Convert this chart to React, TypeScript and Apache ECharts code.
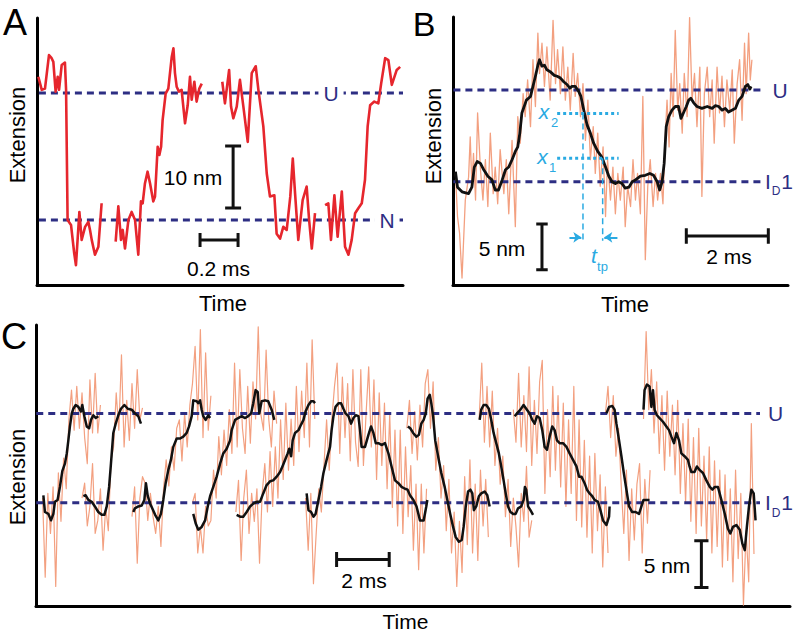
import React, { useEffect, useRef } from 'react';
import * as echarts from 'echarts';

// ---------------- Panel A (red trace, N <-> U) ----------------
const A_TIME_MS = [
  0.007, 0.025, 0.042, 0.063, 0.077, 0.086, 0.098, 0.109, 0.116, 0.130, 0.147, 0.153, 0.161, 0.179, 0.196, 0.205, 0.223, 0.235, 0.253, 0.270, 0.279, 0.288, 0.305, 0.323, 0.340, null,
  0.414, 0.428, 0.442, 0.451, 0.463, 0.481, 0.498, 0.516, 0.533, 0.547, 0.556, 0.568, 0.582, 0.595, 0.612, 0.621, 0.635, 0.644, 0.653, 0.661, 0.677, 0.691, 0.709, 0.718, 0.726, 0.735, 0.747, 0.761, 0.779, 0.793, 0.805, 0.814, 0.828, 0.840, 0.854, 0.867, null,
  0.975, 0.989, 1.011, 1.021, 1.033, 1.051, 1.068, 1.086, 1.109, 1.130, 1.151, 1.165, 1.191, 1.209, 1.226, 1.249, 1.261, 1.279, 1.296, 1.314, 1.333, 1.346, 1.358, 1.375, 1.398, 1.419, 1.432, 1.446, 1.463, null,
  1.516, 1.533, 1.547, 1.565, 1.582, 1.604, 1.621, 1.639, 1.656, 1.674, 1.691, 1.709, 1.726, 1.740, 1.753, 1.775, 1.796, 1.811, 1.832, 1.849, 1.867, 1.893, 1.911,
];
const A_EXT_NM = [
  23.1, 21.0, 21.2, 26.6, 26.1, 25.5, 20.7, 23.1, 21.0, 25.0, 25.4, 21.0, 0, -0.8, -5.4, -7.3, 1.3, -3.2, -1.1, -0.3, -1.6, -3.2, -5.6, -4.3, 2.7, null,
  -3.5, 2.2, -3.2, -1.6, -4.6, 0, 1.3, 0, -5.6, 3.0, 2.7, 5.9, 7.8, 5.9, 3.0, 3.8, 11.8, 10.5, 11.8, 16.1, 20.4, 21.2, 26.3, 27.7, 23.7, 21.5, 20.7, 21.0, 15.6, 18.5, 23.1, 19.4, 22.3, 19.1, 21.2, 22.0, null,
  22.3, 18.8, 24.2, 18.3, 16.4, 18.3, 22.6, 18.3, 12.6, 23.7, 24.8, 21.0, 15.1, 7.5, 3.8, 4.0, -2.2, -3.0, -1.1, -1.6, 3.8, 9.9, 4.3, -3.2, 3.2, 5.4, 0, -4.6, 1.1, null,
  2.4, 2.7, -3.2, 4.0, -2.7, 4.6, -4.3, -5.6, -3.2, 1.1, 1.9, 2.7, 6.5, 15.1, 18.5, 19.1, 18.8, 22.0, 26.1, 25.8, 21.8, 24.2, 24.7,
];
const A_LEVELS_NM = [20.5, 0];
const A_LEVEL_NAMES = ['U', 'N'];

// ---------------- Panel B ----------------
const B_RAW_TIME_MS = [
  0.06, 0.11, 0.16, 0.22, 0.30, 0.38, 0.42, 0.46, 0.50, 0.55,
  0.60, 0.67, 0.73, 0.79, 0.85, 0.91, 0.98, 1.03, 1.09, 1.15,
  1.24, 1.30, 1.36, 1.44, 1.52, 1.58, 1.64, 1.71, 1.76, 1.82,
  1.89, 1.95, 2.01, 2.07, 2.11, 2.17, 2.23, 2.29, 2.37, 2.44,
  2.50, 2.55, 2.62, 2.68, 2.74, 2.80, 2.86, 2.93, 2.98, 3.04,
  3.11, 3.17, 3.23, 3.29, 3.35, 3.42, 3.47, 3.53, 3.59, 3.66,
  3.72, 3.77, 3.84, 3.90, 3.96, 4.02, 4.08, 4.15, 4.20, 4.26,
  4.33, 4.39, 4.45, 4.50, 4.57, 4.63, 4.69, 4.75, 4.81, 4.88,
  4.94, 4.99, 5.06, 5.12, 5.18, 5.22, 5.27, 5.32, 5.37, 5.42,
  5.48, 5.53, 5.59, 5.64, 5.71, 5.77, 5.83, 5.89, 5.95, 6.02,
  6.07, 6.13, 6.20, 6.26, 6.32, 6.37, 6.44, 6.50, 6.56, 6.62,
  6.68, 6.75, 6.81, 6.86, 6.93, 6.99, 7.05, 7.11, 7.15, 7.21,
  7.25, 7.29,
];
const B_RAW_EXT_NM = [
  0.9, -3.8, -5.6, -10.5, -2.0, 0.5, 4.9, -0.5, 3.1, -2.0,
  7.5, 1.3, -2.0, 2.4, -2.7, 5.3, -1.3, 1.6, -2.4, 3.5,
  -1.3, 2.4, -3.5, 4.5, -4.9, 7.1, 4.2, 9.6, 7.1, 11.1,
  6.0, 13.3, 8.2, 16.2, 11.8, 15.1, 10.4, 14.7, 8.9, 17.6,
  10.7, 14.4, 9.6, 14.7, 8.9, 12.5, 7.8, 14.0, 9.3, 11.8,
  7.1, 10.7, 4.5, 8.9, 2.4, 6.0, 0.9, 5.3, -0.5, 3.8,
  -3.8, 2.4, -2.0, 1.6, -3.5, 0.9, -2.0, 1.6, -4.9, -0.5,
  -2.7, 2.4, -2.0, 0.9, -3.5, 9.3, -8.5, -0.5, 2.4, -2.7,
  0.9, -2.0, 0.9, -2.4, 5.3, 8.9, 3.8, 11.8, 7.1, 16.5,
  7.8, 10.7, 5.3, 11.8, 7.1, 17.9, 8.9, 11.8, 6.0, 12.5,
  -1.6, 9.6, 12.5, 7.1, 11.1, 4.2, 12.5, 7.5, 11.5, 6.0,
  11.1, 7.8, 12.2, 4.2, 10.7, 13.3, 6.7, 15.1, 9.6, 16.2,
  11.1, 13.3,
];
const B_SMOOTH_TIME_MS = [
  0.06, 0.11, 0.22, 0.38, 0.46, 0.52, 0.59, 0.67, 0.75, 0.85,
  0.95, 1.03, 1.11, 1.20, 1.28, 1.36, 1.44, 1.52, 1.58, 1.63,
  1.68, 1.79, 1.89, 1.95, 2.01, 2.07, 2.11, 2.17, 2.23, 2.29,
  2.37, 2.47, 2.54, 2.62, 2.70, 2.78, 2.85, 2.90, 2.98, 3.07,
  3.12, 3.19, 3.27, 3.35, 3.43, 3.53, 3.63, 3.72, 3.80, 3.88,
  3.96, 4.04, 4.12, 4.20, 4.29, 4.37, 4.45, 4.57, 4.69, 4.80,
  4.89, 4.98, 5.04, 5.10, 5.15, 5.20, 5.26, 5.34, 5.42, 5.50,
  5.56, 5.63, 5.69, 5.75, 5.80, 5.87, 5.95, 6.07, 6.20, 6.32,
  6.40, 6.48, 6.56, 6.64, 6.72, 6.80, 6.89, 6.97, 7.05, 7.13,
  7.19, 7.24, 7.27,
];
const B_SMOOTH_EXT_NM = [
  1.1, -0.6, -1.1, -1.3, -0.6, 1.6, 2.2, 2.0, 1.3, 0.6,
  0.2, -0.9, -0.9, 0.2, 1.3, 1.6, 2.4, 3.3, 3.8, 5.3,
  7.5, 8.9, 9.3, 10.4, 11.5, 12.7, 13.3, 12.6, 12.7, 12.2,
  12.0, 11.6, 11.5, 11.3, 10.9, 10.6, 10.2, 10.4, 10.4, 9.8,
  9.3, 7.8, 6.2, 5.3, 4.2, 3.3, 2.7, 1.6, 0.6, 0,
  -0.2, 0, -0.2, -0.7, -0.6, 0, 0.2, 0.6, 0.7, 0.9,
  0.7, 0, -0.9, 0, 2.0, 6.0, 7.1, 7.8, 8.2, 8.2,
  6.9, 7.6, 8.2, 8.9, 9.1, 8.6, 8.2, 8.0, 8.2, 8.0,
  8.3, 8.2, 7.8, 8.0, 7.6, 7.8, 8.0, 8.9, 9.3, 10.4,
  10.6, 10.1, 10.4,
];
const B_LEVELS_NM = [10, 0];
const B_X_LEVELS_NM = [7.45, 2.55]; // x2, x1
const B_X_SPAN_MS = [2.54, 4.04];
const B_TP_TIMES_MS = [3.17, 3.65];

// ---------------- Panel C ----------------
const C_RAW_START_MS = [0.25, 1.75, 3.65, 5.95, 7.6, 10.25, 14.1, 16.85, 18.15, 21.65, 23.1];
const C_RAW_DT_MS = 0.1;
const C_RAW_SEGMENTS_NM = [
  [0.5, -8.0, 1.0, -3.3, 1.7, -9.0, 3.2, -2.0, 4.8, 1.5, 8.9, 12.1, 7.8, 12.5, 8.0, 11.8, 7.0, 4.2, 13.2, 7.5, 13.9, 7.5, 10.5],
  [0.5, 2.1, -2.5, -0.4, 4.2, -3.3, -1.9, 1.5, -5.1, -0.5, -3.0, 4.5, 6.0, 11.8, 7.8, 15.9, 6.0, 11.0, 6.7, 12.8, 8.0, 14.3, 8.9, 10.2],
  [-1.5, 1.7, -6.5, 0.5, 2.8, 2.1, -1.9, 1.0, -1.5, -3.3, -0.4, -4.7, 1.5, 4.6, 1.8, 6.0, 3.5, 8.0, 8.9, 4.5, 9.6, 6.0, 10.5, 12.8, 16.8, 8.9, 18.6, 7.0, 16.1, 7.8, 11.5],
  [0.0, 1.0, -5.4, -2.6, -5.4, -0.4, -2.5, -1.9, 3.5, 0.5, 7.1, 3.0, 7.8, 4.0, 10.0, 5.3, 15.0, 6.0, 14.3, 8.0, 5.3, 12.5, 6.4, 13.0, 9.0, 18.9, 9.5, 7.8, 16.4, 9.0, 6.0, 12.0, 8.5],
  [-1.0, 2.4, -6.2, 0.5, 3.5, -3.3, 1.0, -2.0, 1.5, -6.5, 1.0, 4.2, -1.0, 5.5, -0.4, 6.0, 0.5, 8.9, 2.5, 10.7, 3.5, 9.0, 4.0, 12.5, 5.5, 12.0, 7.0, 15.0, 6.0, 17.5, 9.0],
  [0.5, -5.1, 1.0, -8.7, -3.5, 1.5, -1.0, 4.0, 8.9, 3.5, 9.0, 12.5, 15.0, 5.3, 13.5, 7.0, 12.8, 4.5, 14.3, 6.5, 3.9, 14.3, 4.0, 9.5, 14.6, 6.0, 13.2, 2.5, 11.8, 4.0, 10.7, 1.5, 9.5, -0.5, 7.8, -2.5, 7.8, -3.3, 6.0, -1.5, 4.0, -5.1, 2.0, -7.2, 2.0, -5.4, 1.5],
  [8.0, 11.0, 5.3, 9.8, 4.6, 10.5, 6.0, 12.8, 14.3, 8.0, 13.0, 3.5, 7.0, 0.5, 4.0, -3.0, 2.5, -5.4, -1.0, -9.0, -2.0, -7.5, 2.8, -4.5, 4.6, -5.4, 2.0, -6.2, 3.5, -2.5, 2.5, -3.7],
  [9.0, 15.0, 6.5, 12.5, 6.0, 12.0, 4.0, 8.0, 2.0, 5.0, -1.5, 2.5, -4.7, 0.5, -2.6, -6.9, 1.0, -2.0, 3.9, -3.7, -1.9],
  [10.0, 6.5, 13.9, 6.0, 11.5, 5.5, 14.6, 4.0, 11.0, 5.3, 13.0, 15.3, 1.0, 10.0, 2.8, 12.5, 3.5, 11.5, 1.7, 10.7, -0.4, 8.9, 1.0, 12.5, -1.9, 8.9, -2.6, 6.7, -3.7, 5.0, -5.4, 5.3, -3.0, 3.0, -6.9, 1.7, -5.4],
  [9.5, 12.5, 7.0, 11.5, 5.0, 8.0, 2.0, -3.3, 3.5, -6.2, 1.5, -4.0, 2.0, 4.2, -5.4, 2.5, -2.2, 3.5],
  [9.0, 18.4, 10.0, 14.3, 7.5, 13.0, 5.3, 11.5, 3.5, 12.0, 5.0, 10.5, 3.0, 11.0, 1.0, 8.5, 0.0, 9.0, -2.0, 7.0, -3.3, 8.0, -2.5, 5.0, -4.0, 6.0, -5.4, 4.5, -4.7, 3.5, -6.9, 3.0, -6.2, 1.5, -8.5, 3.5, -6.0, 1.0, -11.0, -3.0, -8.5, 8.5, -5.5],
];
const C_PATH_TIME_MS = [
  0.28, 0.34, 0.47, 0.57, 0.66, 0.72, 0.82, 0.91, 1.00, 1.10, 1.17, 1.23, 1.29, 1.36, 1.42, 1.51, 1.61, 1.71, 1.76, 1.84, 1.93, 2.02, 2.09, 2.18, 2.27, 2.37, null,
  1.80, 1.89, 1.99, 2.12, 2.24, 2.37, 2.50, 2.60, 2.69, 2.78, 2.85, 2.94, 3.03, 3.13, 3.23, 3.36, 3.49, 3.64, 3.76, 3.89, 3.99, null,
  3.70, 3.76, 3.89, 4.02, 4.12, 4.18, 4.25, 4.34, 4.42, 4.53, 4.65, 4.75, 4.84, 4.93, 5.03, 5.13, 5.22, 5.35, 5.48, 5.60, 5.73, 5.82, 5.92, 5.98, 6.11, 6.17, 6.24, 6.30, 6.36, 6.45, 6.55, 6.62, null,
  5.98, 6.07, 6.17, 6.30, 6.43, 6.53, 6.62, 6.74, 6.87, 7.00, 7.12, 7.25, 7.38, 7.44, 7.57, 7.69, 7.82, 7.95, 8.07, 8.18, 8.26, 8.35, 8.43, 8.49, 8.58, 8.71, 8.83, 8.96, 9.06, null,
  7.63, 7.76, 7.88, 8.01, 8.14, 8.26, 8.39, 8.52, 8.64, 8.77, 8.90, 9.02, 9.15, 9.28, 9.37, 9.47, 9.57, 9.63, 9.70, 9.76, 9.85, 9.98, 10.08, 10.17, 10.25, 10.36, 10.46, 10.55, 10.61, null,
  10.29, 10.36, 10.46, 10.55, 10.63, 10.74, 10.84, 10.93, 11.05, 11.18, 11.24, 11.31, 11.39, 11.50, 11.60, 11.69, 11.77, 11.88, 11.98, 12.07, 12.16, 12.26, 12.32, 12.38, 12.51, 12.64, 12.74, 12.83, 12.92, 13.02, 13.14, 13.27, 13.40, 13.52, 13.65, 13.78, 13.90, 14.03, 14.13, 14.22, 14.35, 14.47, 14.60, 14.74, 14.84, 14.88, null,
  14.14, 14.23, 14.34, 14.46, 14.56, 14.65, 14.74, 14.82, 14.89, 14.97, 15.03, 15.10, 15.18, 15.29, 15.41, 15.54, 15.64, 15.75, 15.86, 15.96, 16.08, 16.19, 16.26, 16.34, 16.43, 16.52, 16.59, 16.65, 16.74, 16.84, 16.93, 17.06, 17.16, 17.25, null,
  16.87, 16.93, 17.02, 17.12, 17.22, 17.31, 17.40, 17.50, 17.60, 17.69, 17.78, 17.86, 17.95, 18.04, 18.14, 18.24, 18.33, 18.45, 18.54, 18.59, 18.64, 18.71, 18.80, 18.90, null,
  18.20, 18.29, 18.42, 18.54, 18.64, 18.77, 18.87, 18.96, 19.05, 19.15, 19.25, 19.34, 19.43, 19.53, 19.63, 19.72, 19.81, 19.91, 20.04, 20.17, 20.29, 20.42, 20.55, 20.65, 20.74, 20.86, 20.95, 21.05, 21.15, 21.24, 21.37, 21.46, 21.56, 21.69, 21.79, 21.81, null,
  21.69, 21.79, 21.91, 22.00, 22.07, 22.17, 22.26, 22.35, 22.45, 22.55, 22.67, 22.80, 22.93, 23.02, 23.10, 23.21, 23.33, null,
  23.10, 23.14, 23.23, 23.33, 23.40, 23.46, 23.52, 23.61, 23.71, 23.84, 23.97, 24.07, 24.16, 24.26, 24.35, 24.45, 24.54, 24.66, 24.79, 24.85, 24.92, 25.04, 25.13, 25.24, 25.36, 25.49, 25.62, 25.72, 25.81, 25.93, 26.06, 26.19, 26.31, 26.40, 26.50, 26.63, 26.76, 26.86, 26.95, 27.03, 27.11, 27.20, 27.29, 27.36,
];
const C_PATH_EXT_NM = [
  0.8, -1.0, -1.2, -1.9, -1.2, 0.1, 0.3, 1.7, 3.4, 4.2, 5.3, 6.7, 8.2, 9.6, 10.1, 10.5, 10.3, 9.8, 10.5, 9.3, 8.2, 8.0, 8.9, 9.4, 9.1, 9.3, null,
  0.7, 0.8, 0.3, 0.1, -0.4, -1.0, -1.3, -1.3, -0.4, 1.7, 4.2, 7.5, 8.5, 9.4, 10.1, 10.5, 10.1, 10.0, 9.6, 9.3, 8.5, null,
  -1.0, -0.6, -0.4, -0.3, 0.3, 2.1, 0.7, -0.1, -0.6, -1.3, -1.9, -1.2, 0.3, 2.1, 3.5, 4.6, 6.0, 6.9, 6.9, 7.1, 7.5, 8.2, 9.3, 11.0, 10.9, 10.7, 11.0, 10.0, 9.3, 8.9, 9.4, 9.1, null,
  -1.2, -2.2, -2.9, -2.6, -1.9, -0.4, 0.7, 1.7, 2.8, 4.2, 5.3, 5.8, 6.7, 7.8, 8.9, 9.1, 9.3, 9.1, 9.3, 9.6, 10.7, 12.1, 11.9, 9.6, 10.9, 11.0, 10.9, 10.0, 8.9, null,
  -1.3, -1.5, -1.5, -1.0, -0.4, -0.1, 0.1, 0.1, 1.0, 1.9, 2.3, 2.4, 2.8, 3.3, 3.9, 4.6, 5.3, 5.8, 5.0, 6.7, 7.5, 7.8, 8.4, 8.9, 9.8, 10.5, 10.9, 10.9, 10.7, null,
  1.0, -0.8, -1.0, -1.5, -1.2, 0.3, 1.7, 3.2, 4.6, 6.0, 7.8, 9.3, 10.3, 10.7, 10.7, 10.1, 9.6, 9.3, 8.5, 9.1, 9.4, 9.3, 7.8, 6.0, 6.0, 7.3, 8.2, 7.5, 6.4, 6.4, 6.2, 6.4, 5.3, 3.9, 2.4, 2.1, 1.7, 1.5, 1.4, 0.8, 0.3, -0.4, -1.9, -1.9, -0.4, 0.3, null,
  8.2, 8.0, 7.5, 7.1, 7.3, 8.5, 8.9, 9.6, 11.2, 11.6, 10.7, 9.3, 6.7, 5.0, 3.2, 1.7, 0.3, -1.2, -2.6, -3.7, -4.2, -4.0, -2.6, -0.4, 1.2, 1.4, 1.0, -0.8, -0.4, 0.7, 1.0, 1.2, 0.8, -0.4, null,
  8.9, 10.0, 10.5, 10.5, 10.1, 8.9, 7.5, 6.4, 5.3, 3.9, 2.4, 1.0, -0.4, -1.0, -1.2, -1.2, -0.6, -0.4, 0.3, 1.7, 1.4, -0.4, -0.8, -1.3, null,
  9.3, 9.6, 10.0, 10.5, 10.1, 9.6, 8.9, 8.5, 9.3, 9.1, 7.8, 6.0, 5.7, 7.1, 8.2, 7.8, 6.7, 6.4, 6.4, 6.0, 5.3, 4.6, 3.9, 2.8, 2.8, 2.1, 1.4, 1.0, 0.7, 0.3, 0.1, -0.8, -1.9, -2.4, -1.5, -0.4, null,
  9.6, 10.3, 10.4, 10.0, 8.5, 6.7, 5.0, 3.2, 1.4, -0.4, -1.0, -1.0, -1.2, -0.4, 0.3, 0.3, 0.3, null,
  10.0, 12.1, 12.7, 12.5, 10.3, 12.1, 10.0, 9.4, 9.1, 8.7, 8.2, 7.8, 7.1, 6.4, 7.5, 6.7, 5.3, 5.0, 4.6, 3.9, 3.3, 3.3, 3.9, 3.5, 3.2, 2.4, 1.7, 1.4, 1.7, 1.7, 0.3, -1.2, -2.8, -3.3, -2.6, -2.4, -2.9, -4.4, -5.1, -2.6, -0.4, 1.4, 1.0, -1.9,
];
const C_LEVELS_NM = [9.6, 0];

// ---------------- layout & style ----------------
const FONT = '"Liberation Sans", Arial, Helvetica, sans-serif';
const RED = '#e6262d';
const ORANGE = '#f3a080';
const BLACK = '#111111';
const NAVY = '#2d2e83';
const CYAN = '#2aaae2';

const GRIDS = [
  { left: 37, top: 18, width: 366, height: 267 },
  { left: 453, top: 17, width: 335, height: 268 },
  { left: 36, top: 325, width: 754, height: 281 },
];
const X_RANGES = [[0, 1.926], [0, 8.17], [0, 28.67]];
const Y_RANGES = [[-10.48, 32.58], [-11.26, 17.96], [-11.1, 19.1]];
const LEVEL_END_MS = [1.926, 7.54, 27.53];

const zip = (t: (number | null)[], y: (number | null)[]) => t.map((v, i) => [v, y[i]]);

const vBar = (x: number, y0: number, len: number, cap: number) => [
  [x, y0], [x, y0 + len], [null, null], [x - cap, y0], [x + cap, y0], [null, null], [x - cap, y0 + len], [x + cap, y0 + len],
];
const hBar = (x0: number, y: number, len: number, cap: number) => [
  [x0, y], [x0 + len, y], [null, null], [x0, y - cap], [x0, y + cap], [null, null], [x0 + len, y - cap], [x0 + len, y + cap],
];

const line = (g: number, data: any[], color: string, width: number, z: number, type: any = 'solid') => ({
  type: 'line',
  xAxisIndex: g,
  yAxisIndex: g,
  data,
  showSymbol: false,
  symbol: 'none',
  silent: true,
  connectNulls: false,
  animation: false,
  z,
  lineStyle: { color, width, type, cap: 'butt', join: 'round' },
  emphasis: { disabled: true },
});

const levelLines = (g: number, levels: number[]) => {
  const d: any[] = [];
  levels.forEach((lv, i) => {
    if (i) d.push([null, null]);
    d.push([0.01, lv], [LEVEL_END_MS[g], lv]);
  });
  return line(g, d, NAVY, 3, 3, [7, 5]);
};

const txt = (text: string, x: number, y: number, size: number, opt: any = {}) => ({
  type: 'text',
  x,
  y,
  rotation: opt.rotation || 0,
  z: 100,
  silent: true,
  style: {
    text,
    fill: opt.color || '#000',
    fontSize: size,
    fontFamily: FONT,
    fontStyle: opt.italic ? 'italic' : 'normal',
    align: 'center',
    verticalAlign: 'middle',
    backgroundColor: opt.bg,
    padding: opt.pad,
  },
});

function buildOption() {
  const cRaw: any[] = [];
  C_RAW_SEGMENTS_NM.forEach((seg, k) => {
    if (k) cRaw.push([null, null]);
    seg.forEach((v, i) => cRaw.push([+(C_RAW_START_MS[k] + i * C_RAW_DT_MS).toFixed(3), v]));
  });

  const bDotted: any[] = [
    [B_X_SPAN_MS[0], B_X_LEVELS_NM[0]], [B_X_SPAN_MS[1], B_X_LEVELS_NM[0]], [null, null],
    [B_X_SPAN_MS[0], B_X_LEVELS_NM[1]], [B_X_SPAN_MS[1], B_X_LEVELS_NM[1]],
  ];
  const bDrop: any[] = [
    [B_TP_TIMES_MS[0], B_X_LEVELS_NM[0]], [B_TP_TIMES_MS[0], -6.43], [null, null],
    [B_TP_TIMES_MS[1], B_X_LEVELS_NM[1]], [B_TP_TIMES_MS[1], -6.43],
  ];

  const series: any[] = [
    // Panel A
    levelLines(0, A_LEVELS_NM),
    line(0, zip(A_TIME_MS, A_EXT_NM), RED, 2.6, 4),
    line(0, vBar(1.032, 1.94, 10, 0.042), BLACK, 3, 5),
    line(0, hBar(0.858, -3.23, 0.2, 1.13), BLACK, 3, 5),
    // Panel B
    line(1, zip(B_RAW_TIME_MS, B_RAW_EXT_NM), ORANGE, 1.3, 2),
    levelLines(1, B_LEVELS_NM),
    line(1, zip(B_SMOOTH_TIME_MS, B_SMOOTH_EXT_NM), BLACK, 2.8, 4),
    line(1, vBar(2.17, -9.6, 5, 0.14), BLACK, 3, 5),
    line(1, hBar(5.69, -5.92, 2, 0.85), BLACK, 3, 5),
    line(1, bDotted, CYAN, 3, 6, [3, 3]),
    line(1, bDrop, CYAN, 1.5, 6, [6, 4]),
    {
      type: 'lines',
      coordinateSystem: 'cartesian2d',
      xAxisIndex: 1,
      yAxisIndex: 1,
      symbol: ['none', 'arrow'],
      symbolSize: 8,
      silent: true,
      z: 6,
      lineStyle: { color: CYAN, width: 2, opacity: 1, curveness: 0 },
      data: [
        { coords: [[2.84, -6.06], [B_TP_TIMES_MS[0] - 0.04, -6.06]] },
        { coords: [[4.01, -6.06], [B_TP_TIMES_MS[1] + 0.04, -6.06]] },
      ],
    },
    // Panel C
    line(2, cRaw, ORANGE, 1.2, 2),
    levelLines(2, C_LEVELS_NM),
    line(2, zip(C_PATH_TIME_MS, C_PATH_EXT_NM), BLACK, 2.5, 4),
    line(2, hBar(11.43, -6.1, 2, 0.8), BLACK, 3, 5),
    line(2, vBar(25.3, -9.1, 5, 0.27), BLACK, 3, 5),
  ];

  const lvl = { color: NAVY, bg: '#fff', pad: [0, 5] };
  const graphic: any[] = [
    txt('A', 15, 22.5, 36),
    txt('B', 424, 23.5, 34),
    txt('C', 14, 336, 36),
    txt('Extension', 17, 135, 22, { rotation: Math.PI / 2 }),
    txt('Extension', 433, 136, 22, { rotation: Math.PI / 2 }),
    txt('Extension', 17, 477, 22, { rotation: Math.PI / 2 }),
    txt('Time', 223, 303, 22),
    txt('Time', 625, 304, 22),
    txt('Time', 405.5, 621.5, 21),
    // level labels
    txt(A_LEVEL_NAMES[0], 331, 93, 21, lvl),
    txt(A_LEVEL_NAMES[1], 387, 220, 21, lvl),
    txt('U', 780, 90, 21, { color: NAVY }),
    txt('I', 768, 181.7, 21, { color: NAVY }),
    txt('D', 776, 191, 12, { color: NAVY }),
    txt('1', 787, 181.7, 21, { color: NAVY }),
    txt('U', 775.5, 413.5, 21, { color: NAVY }),
    txt('I', 768, 502.7, 21, { color: NAVY }),
    txt('D', 776, 513, 12, { color: NAVY }),
    txt('1', 787, 502.7, 21, { color: NAVY }),
    // scale bar labels
    txt('10 nm', 193, 177, 21),
    txt('0.2 ms', 218.5, 268.5, 21),
    txt('5 nm', 502, 248.5, 21),
    txt('2 ms', 729, 256.5, 21),
    txt('2 ms', 364, 580.5, 21),
    txt('5 nm', 667, 565, 21),
    // cyan annotations
    txt('x', 544, 111.5, 21, { color: CYAN, italic: true }),
    txt('2', 554.5, 122, 13, { color: CYAN }),
    txt('x', 542.5, 156.5, 21, { color: CYAN, italic: true }),
    txt('1', 552.5, 167, 13, { color: CYAN }),
    txt('t', 594, 255, 21, { color: CYAN, italic: true }),
    txt('tp', 602.5, 266, 13, { color: CYAN }),
  ];

  return {
    animation: false,
    backgroundColor: '#ffffff',
    grid: GRIDS.map((g) => ({ ...g, containLabel: false, outerBoundsMode: 'none', show: false })),
    xAxis: GRIDS.map((_, i) => ({
      type: 'value',
      gridIndex: i,
      min: X_RANGES[i][0],
      max: X_RANGES[i][1],
      axisLine: { show: true, onZero: false, lineStyle: { color: '#000', width: 3 } },
      axisTick: { show: false },
      axisLabel: { show: false },
      splitLine: { show: false },
    })),
    yAxis: GRIDS.map((_, i) => ({
      type: 'value',
      gridIndex: i,
      min: Y_RANGES[i][0],
      max: Y_RANGES[i][1],
      axisLine: { show: true, onZero: false, lineStyle: { color: '#000', width: 3 } },
      axisTick: { show: false },
      axisLabel: { show: false },
      splitLine: { show: false },
    })),
    series,
    graphic,
  };
}

export default function App() {
  const ref = useRef<HTMLDivElement>(null);
  useEffect(() => {
    if (!ref.current) return;
    const chart = echarts.init(ref.current, null, { renderer: 'svg' });
    chart.setOption(buildOption() as any);
    return () => chart.dispose();
  }, []);
  return (
    <div
      ref={ref}
      style={{ position: 'fixed', left: 0, top: 0, width: 793, height: 634, background: '#fff' }}
    />
  );
}
